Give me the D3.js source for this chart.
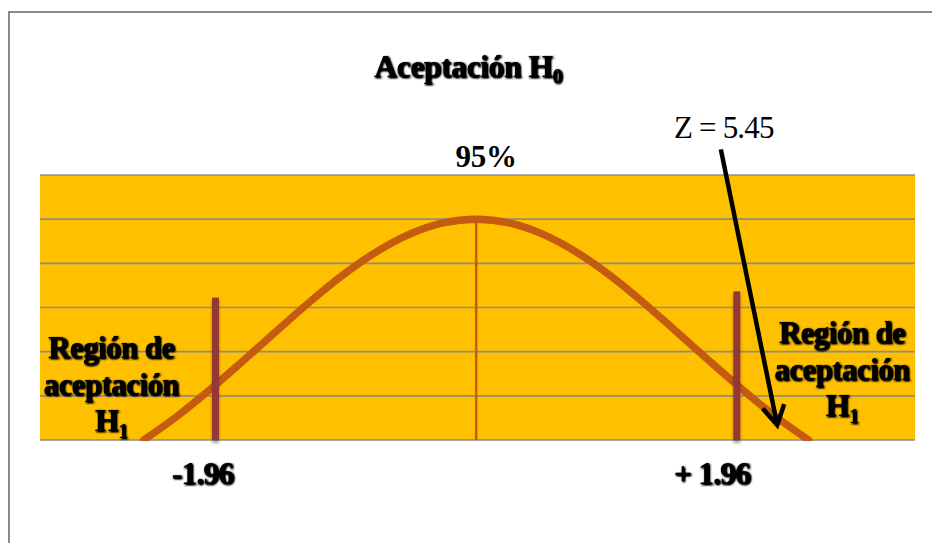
<!DOCTYPE html>
<html>
<head>
<meta charset="utf-8">
<script src="https://cdn.jsdelivr.net/npm/d3@7"></script>
<style>
  body { margin: 0; background: #ffffff; }
  svg { display: block; }
</style>
</head>
<body>
<svg id="chart" width="932" height="543"></svg>
<script>
// Bell curve of the acceptance region (heights relative to the peak)
const curveX = [-2.5, -2.25, -2.0, -1.75, -1.5, -1.25, -1.0, -0.75, -0.5, -0.25, 0,
                0.25, 0.5, 0.75, 1.0, 1.25, 1.5, 1.75, 2.0, 2.25, 2.5];
const curveY = [0, 0.107, 0.229, 0.360, 0.494, 0.626, 0.748, 0.852, 0.932, 0.983, 1,
                0.983, 0.932, 0.852, 0.748, 0.626, 0.494, 0.360, 0.229, 0.107, 0];

// Horizontal grid levels
const gridLevels = [0, 0.2, 0.4, 0.6, 0.8, 1.0, 1.2];

// Critical values and their bars
const criticalValues = [-1.96, 1.96];
const criticalLabels = ["-1.96", "+ 1.96"];
const criticalHeights = [0.645, 0.673];

// Text content
const titleText = "Aceptación ";
const titleSub = "0";
const peakLabel = "95%";
const regionLines = ["Región de", "aceptación", "H"];
const regionSub = "1";
const regionCenters = [-2.745, 2.75];
const regionTops = [0.371, 0.439];

// Observed statistic annotation
const zLabel = "Z = 5.45";
const zArrowFrom = [1.84, 1.316];
const zArrowTo = [2.264, 0.068];

const svg = d3.select("#chart");
const W = 932, H = 543;

const x = d3.scaleLinear().domain([-3.28, 3.3]).range([40, 915]);
const y = d3.scaleLinear().domain([0, 1.2]).range([440, 175]);

const serif = "'Liberation Serif', 'Times New Roman', serif";

// Filters: thin dark halo for the bold labels, soft shadow for the critical bars
const defs = svg.append("defs");
const glow = defs.append("filter").attr("id", "glow")
  .attr("x", "-20%").attr("y", "-40%").attr("width", "140%").attr("height", "180%");
glow.append("feGaussianBlur").attr("in", "SourceAlpha").attr("stdDeviation", 1.0).attr("result", "b");
glow.append("feOffset").attr("in", "b").attr("dx", 0.8).attr("dy", 1).attr("result", "o");
glow.append("feComponentTransfer").attr("in", "o").attr("result", "s")
  .append("feFuncA").attr("type", "linear").attr("slope", 1.8);
const gm = glow.append("feMerge");
gm.append("feMergeNode").attr("in", "s");
gm.append("feMergeNode").attr("in", "SourceGraphic");

const shadow = defs.append("filter").attr("id", "barShadow")
  .attr("x", "-150%").attr("y", "-10%").attr("width", "400%").attr("height", "130%");
shadow.append("feDropShadow").attr("dx", 0).attr("dy", 3).attr("stdDeviation", 1.6)
  .attr("flood-color", "#000").attr("flood-opacity", 0.35);

defs.append("clipPath").attr("id", "plotClip")
  .append("rect")
  .attr("x", x.range()[0]).attr("y", y(1.2) - 10)
  .attr("width", x.range()[1] - x.range()[0]).attr("height", y(0) - y(1.2) + 11);

// Outer frame
svg.append("rect")
  .attr("x", 9).attr("y", 12).attr("width", W + 20).attr("height", H + 20)
  .attr("fill", "none").attr("stroke", "#8a8a8a").attr("stroke-width", 2);

// Plot background
svg.append("rect")
  .attr("x", x.range()[0]).attr("y", y(1.2))
  .attr("width", x.range()[1] - x.range()[0]).attr("height", y(0) - y(1.2))
  .attr("fill", "#FFC000");

// Grid lines
svg.append("g").selectAll("line").data(gridLevels).join("line")
  .attr("x1", x.range()[0]).attr("x2", x.range()[1])
  .attr("y1", d => y(d)).attr("y2", d => y(d))
  .attr("stroke", "#8c8c8c").attr("stroke-width", 1.6);

// Center line under the peak
svg.append("line")
  .attr("x1", x(0)).attr("x2", x(0)).attr("y1", y(0)).attr("y2", y(1))
  .attr("stroke", "#C55A11").attr("stroke-width", 2.5);

// Bell curve
const curveData = curveX.map((v, i) => [v, curveY[i]]);
svg.append("path")
  .datum(curveData)
  .attr("clip-path", "url(#plotClip)")
  .attr("d", d3.line().x(d => x(d[0])).y(d => y(d[1])).curve(d3.curveMonotoneX))
  .attr("fill", "none").attr("stroke", "#C55A11").attr("stroke-width", 7.5)
  .attr("stroke-linecap", "round").attr("stroke-linejoin", "round");

// Critical value bars
const barW = 7;
svg.append("g").selectAll("rect").data(criticalValues).join("rect")
  .attr("x", d => x(d) - barW / 2).attr("width", barW)
  .attr("y", (d, i) => y(criticalHeights[i]))
  .attr("height", (d, i) => y(0) - y(criticalHeights[i]))
  .attr("fill", "#953735")
  .attr("filter", "url(#barShadow)");

// Critical value labels
const labelShift = [-13, -25];
svg.append("g").selectAll("text").data(criticalValues).join("text")
  .attr("x", (d, i) => x(d) + labelShift[i]).attr("y", 484)
  .attr("text-anchor", "middle")
  .attr("font-family", serif).attr("font-weight", "bold").attr("font-size", 32)
  .attr("letter-spacing", -1)
  .attr("filter", "url(#glow)")
  .text((d, i) => criticalLabels[i]);

// Title
const title = svg.append("text")
  .attr("x", 468).attr("y", 77).attr("text-anchor", "middle")
  .attr("font-family", serif).attr("font-weight", "bold").attr("font-size", 32)
  .attr("letter-spacing", -0.6)
  .attr("filter", "url(#glow)");
title.append("tspan").text(titleText + "H");
title.append("tspan").attr("font-size", 20).attr("dy", 6).text(titleSub);

// Peak label
svg.append("text")
  .attr("x", x(0) + 10).attr("y", 167).attr("text-anchor", "middle")
  .attr("font-family", serif).attr("font-weight", "bold").attr("font-size", 31)
  .attr("letter-spacing", -0.3)
  .text(peakLabel);

// Region labels on both tails
regionCenters.forEach((c, k) => {
  const t = svg.append("text")
    .attr("text-anchor", "middle")
    .attr("font-family", serif).attr("font-weight", "bold").attr("font-size", 31)
    .attr("letter-spacing", -0.6)
    .attr("filter", "url(#glow)");
  regionLines.forEach((line, j) => {
    t.append("tspan")
      .attr("x", x(c)).attr("y", y(regionTops[k]) + j * 36.5)
      .text(line);
  });
  t.append("tspan").attr("font-size", 20).attr("dy", 7).text(regionSub);
});

// Observed statistic arrow
const ax0 = x(zArrowFrom[0]), ay0 = y(zArrowFrom[1]);
const ax1 = x(zArrowTo[0]), ay1 = y(zArrowTo[1]);
const ang = Math.atan2(ay1 - ay0, ax1 - ax0);
const headLen = 22, headAng = Math.PI / 6;
svg.append("line")
  .attr("x1", ax0).attr("y1", ay0).attr("x2", ax1).attr("y2", ay1)
  .attr("stroke", "#000").attr("stroke-width", 4.5);
svg.append("path")
  .attr("d", d3.line()([
    [ax1 - headLen * Math.cos(ang - headAng), ay1 - headLen * Math.sin(ang - headAng)],
    [ax1, ay1],
    [ax1 - headLen * Math.cos(ang + headAng), ay1 - headLen * Math.sin(ang + headAng)]
  ]))
  .attr("fill", "none").attr("stroke", "#000").attr("stroke-width", 4.5)
  .attr("stroke-linejoin", "miter").attr("stroke-linecap", "butt");

svg.append("text")
  .attr("x", ax0 + 3).attr("y", ay0 - 11).attr("text-anchor", "middle")
  .attr("font-family", serif).attr("font-size", 31)
  .attr("letter-spacing", -0.8)
  .text(zLabel);
</script>
</body>
</html>
